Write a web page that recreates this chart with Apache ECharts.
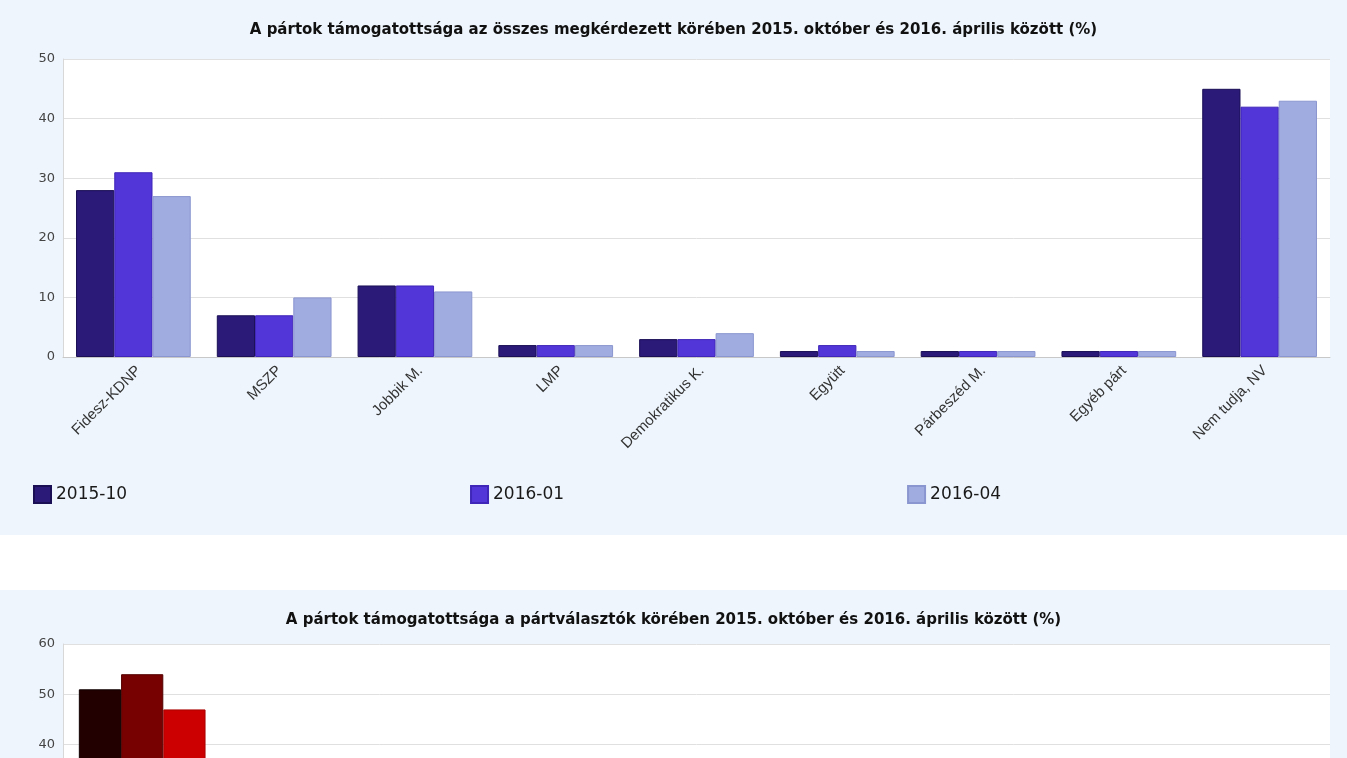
<!DOCTYPE html>
<html>
<head>
<meta charset="utf-8">
<script src="https://cdn.jsdelivr.net/npm/echarts@6/dist/echarts.min.js"></script>
<style>
  html, body { margin: 0; padding: 0; background: #fff; width: 1347px; height: 758px; overflow: hidden; }
  .panel { position: absolute; left: 0; width: 1347px; height: 535px; background: #eef5fc; }
</style>
</head>
<body>
<div id="c1" class="panel" style="top:0"></div>
<div id="c2" class="panel" style="top:590px"></div>
<script>
// all respondents
var parties = ['Fidesz-KDNP', 'MSZP', 'Jobbik M.', 'LMP', 'Demokratikus K.', 'Együtt', 'Párbeszéd M.', 'Egyéb párt', 'Nem tudja, NV'];
var waves = ['2015-10', '2016-01', '2016-04'];
var all201510 = [28, 7, 12, 2, 3, 1, 1, 1, 45];
var all201601 = [31, 7, 12, 2, 3, 2, 1, 1, 42];
var all201604 = [27, 10, 11, 2, 4, 1, 1, 1, 43];

// party choosers (only Fidesz is visible in the picture)
var choosers = ['Fidesz-KDNP', 'MSZP', 'Jobbik M.', 'LMP', 'Demokratikus K.', 'Együtt', 'Párbeszéd M.', 'Egyéb párt'];
var ch201510 = [51, 13, 22, 4, 5, 2, 2, 2];
var ch201601 = [54, 12, 21, 3, 5, 3, 2, 2];
var ch201604 = [47, 18, 19, 4, 7, 2, 2, 2];

var blues = ['#2b1a78', '#5336d8', '#a0abe0'];
var blueBorders = ['#1a0f55', '#3f26b8', '#8a96cf'];
var reds = ['#220000', '#770000', '#cc0000'];
var redBorders = ['#110000', '#550000', '#aa0000'];

function buildOption(title, cats, values, colors, borders, yMax, gridTop, gridBottom) {
  return {
    animation: false,
    title: {
      text: title,
      left: 'center',
      top: 18,
      textStyle: { fontFamily: 'DejaVu Sans', fontSize: 15, fontWeight: 'bold', color: '#111' }
    },
    legend: {
      left: 28,
      top: 480,
      itemWidth: 17,
      itemHeight: 17,
      itemGap: 343,
      icon: 'rect',
      textStyle: { fontFamily: 'DejaVu Sans', fontSize: 17, color: '#1a1a1a' },
      data: waves
    },
    grid: {
      left: 63,
      right: 17,
      top: gridTop,
      bottom: gridBottom,
      show: true,
      backgroundColor: '#ffffff',
      borderWidth: 0
    },
    xAxis: {
      type: 'category',
      data: cats,
      axisLine: { lineStyle: { color: '#c8c8c8' } },
      axisTick: { length: 5, lineStyle: { color: '#c8c8c8' } },
      axisLabel: {
        interval: 0,
        rotate: 45,
        margin: 6,
        verticalAlign: 'top',
        fontFamily: 'Liberation Sans',
        fontSize: 15,
        color: '#333'
      }
    },
    yAxis: {
      type: 'value',
      min: 0,
      max: yMax,
      interval: 10,
      axisLine: { show: true, lineStyle: { color: '#d8d8d8' } },
      axisTick: { show: false },
      axisLabel: { fontFamily: 'DejaVu Sans', fontSize: 13, color: '#444', margin: 8 },
      splitLine: { lineStyle: { color: '#e0e0e0' } }
    },
    series: values.map(function (v, i) {
      return {
        name: waves[i],
        type: 'bar',
        data: v,
        barGap: '0%',
        barCategoryGap: cats.length === 9 ? '18.5%' : '20%',
        itemStyle: { color: colors[i], borderColor: borders[i], borderWidth: 1 }
      };
    })
  };
}

var chart1 = echarts.init(document.getElementById('c1'));
chart1.setOption(buildOption(
  'A pártok támogatottsága az összes megkérdezett körében 2015. október és 2016. április között (%)',
  parties, [all201510, all201601, all201604], blues, blueBorders, 50, 59, 178));

var chart2 = echarts.init(document.getElementById('c2'));
chart2.setOption(buildOption(
  'A pártok támogatottsága a pártválasztók körében 2015. október és 2016. április között (%)',
  choosers, [ch201510, ch201601, ch201604], reds, redBorders, 60, 54, 179));
</script>
</body>
</html>
